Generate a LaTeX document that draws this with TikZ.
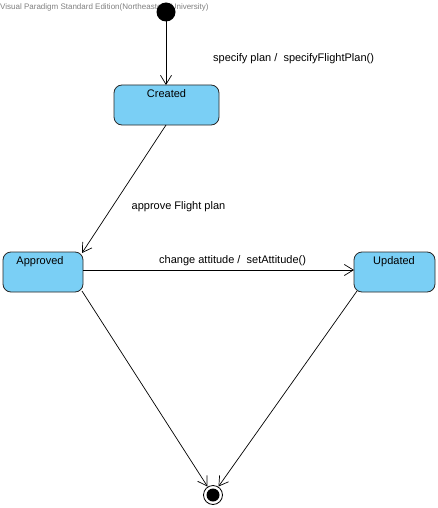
\documentclass[tikz,border=0pt]{standalone}
\usepackage{fontspec}
\setmainfont{Liberation Sans}
\usetikzlibrary{arrows.meta}
\definecolor{statefill}{RGB}{122,207,245}
\definecolor{stateline}{RGB}{40,40,40}
\begin{document}
\begin{tikzpicture}[x=1pt,y=-1pt,
  state/.style={draw=stateline,fill=statefill,rounded corners=8pt,line width=0.8pt},
  statelabel/.style={font=\fontsize{11}{13}\selectfont,anchor=north,inner sep=0pt},
  trans/.style={-{Straight Barb[length=9pt,width=11pt]},line width=0.7pt},
  tlabel/.style={font=\fontsize{11}{13}\selectfont,anchor=west,inner sep=0pt}]
\useasboundingbox (0,0) rectangle (438,508);
\fill[white] (0,0) rectangle (438,508);
% edition note in the corner
\node[anchor=west,inner sep=0pt,text=gray,font=\fontsize{8}{9}\selectfont] (edition) at (0,7) {Visual Paradigm Standard Edition(Northeastern University)};
% pseudo states
\fill (166,12) circle (9.5) coordinate (init);
\node[circle,draw,line width=0.8pt,minimum size=19pt,inner sep=0pt] (final) at (213,495) {};
\fill (213,495) circle (6.5);
% states
\draw[state] (114,85) rectangle (219,125);
\node[statelabel] (created) at (166.5,89) {Created};
\coordinate (createdTop) at (166,85);
\coordinate (createdBot) at (166,125);
\draw[state] (3,252) rectangle (83,292);
\node[statelabel] (approved) at (40,256) {Approved};
\coordinate (approvedTR) at (82,253);
\coordinate (approvedR) at (83,270);
\coordinate (approvedBR) at (82,291);
\draw[state] (354,252) rectangle (435,292);
\node[statelabel] (updated) at (394,256) {Updated};
\coordinate (updatedL) at (354,270);
\coordinate (updatedBL) at (357,291);
% transitions
\draw[trans] (166,21.5) -- (createdTop);
\draw[trans] (createdBot) -- (approvedTR);
\draw[trans] (approvedR) -- (updatedL);
\draw[trans] (approvedBR) -- (207.5,486.5);
\draw[trans] (updatedBL) -- (218.5,486.5);
% transition labels
\node[tlabel] (l1) at (213,59) {specify plan /\ \ specifyFlightPlan()};
\node[tlabel] (l2) at (131.5,207) {approve Flight plan};
\node[tlabel] (l3) at (159,260.5) {change attitude /\ \ setAttitude()};
\end{tikzpicture}
\end{document}
